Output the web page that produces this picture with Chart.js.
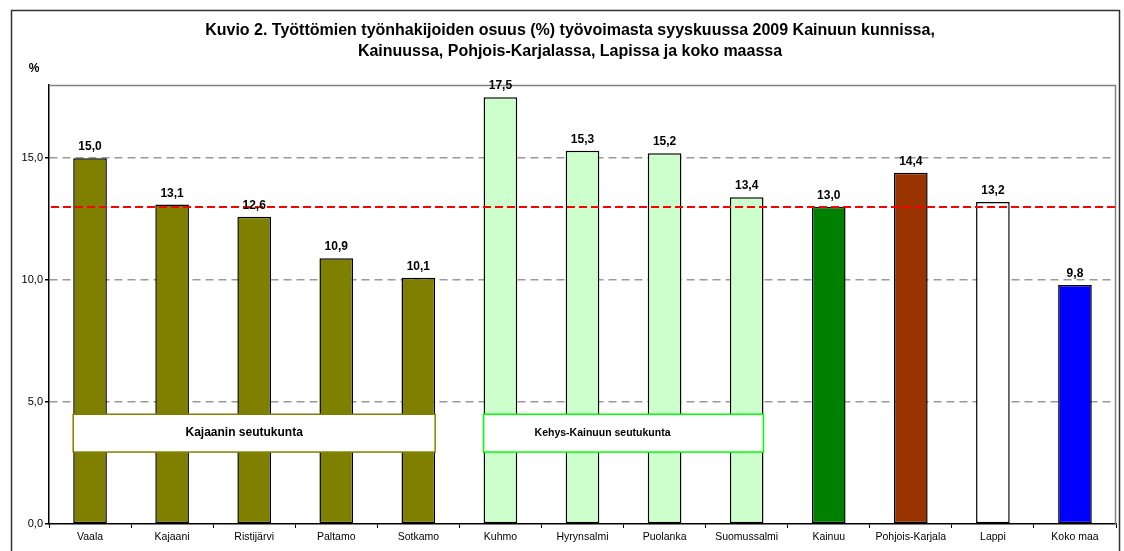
<!DOCTYPE html>
<html>
<head>
<meta charset="utf-8">
<script src="https://cdn.jsdelivr.net/npm/chart.js@4"></script>
<style>
  html, body { margin: 0; padding: 0; background: #fff; }
  #wrap { width: 1124px; height: 551px; }
</style>
</head>
<body>
<div id="wrap"><canvas id="chart" width="1124" height="551"></canvas></div>
<script>
// alueet ja osuudet (%)
var kunnat = ['Vaala', 'Kajaani', 'Ristijärvi', 'Paltamo', 'Sotkamo', 'Kuhmo', 'Hyrynsalmi',
  'Puolanka', 'Suomussalmi', 'Kainuu', 'Pohjois-Karjala', 'Lappi', 'Koko maa'];
var osuudet = [15.0, 13.1, 12.6, 10.9, 10.1, 17.5, 15.3, 15.2, 13.4, 13.0, 14.4, 13.2, 9.8];
var yTicks = [0, 5, 10, 15];
var kainuuViiva = 13.0;  // punainen katkoviiva = Kainuu

var otsikko = [
  'Kuvio 2. Työttömien työnhakijoiden osuus (%) työvoimasta syyskuussa 2009 Kainuun kunnissa,',
  'Kainuussa, Pohjois-Karjalassa, Lapissa ja koko maassa'
];

// värit pylväille
var varit = ['#808000', '#808000', '#808000', '#808000', '#808000',
  '#CCFFCC', '#CCFFCC', '#CCFFCC', '#CCFFCC',
  '#008000', '#993300', '#FFFFFF', '#0000FF'];

// seutukuntalaatikot
var seutukunnat = [
  { alku: 0, loppu: 4, teksti: 'Kajaanin seutukunta', reuna: '#808000', koko: 12, siirto: -10 },
  { alku: 5, loppu: 8, teksti: 'Kehys-Kainuun seutukunta', reuna: '#00FF00', koko: 10.5, siirto: -21 }
];

function fmt(v) { return v.toFixed(1).replace('.', ','); }

var FONT = '"Liberation Sans", Arial, sans-serif';

var kehysPlugin = {
  id: 'kehys',
  beforeDraw: function(chart) {
    var ctx = chart.ctx;
    ctx.save();
    ctx.fillStyle = '#fff';
    ctx.fillRect(0, 0, chart.width, chart.height);
    ctx.strokeStyle = '#333';
    ctx.lineWidth = 1.5;
    ctx.beginPath();
    ctx.moveTo(11.5, chart.height + 5);
    ctx.lineTo(11.5, 10.5);
    ctx.lineTo(1119.5, 10.5);
    ctx.lineTo(1119.5, chart.height + 5);
    ctx.stroke();

    // otsikko
    ctx.fillStyle = '#000';
    ctx.font = 'bold 16px ' + FONT;
    ctx.textAlign = 'center';
    ctx.textBaseline = 'middle';
    ctx.fillText(otsikko[0], 570, 31);
    ctx.fillText(otsikko[1], 570, 52);

    ctx.font = 'bold 12px ' + FONT;
    ctx.fillText('%', 34, 69);
    ctx.restore();
  },
  beforeDatasetsDraw: function(chart) {
    var a = chart.chartArea, ctx = chart.ctx;
    ctx.save();
    ctx.strokeStyle = '#808080';
    ctx.lineWidth = 1.5;
    ctx.beginPath();
    ctx.moveTo(a.left, a.top + 0.5);
    ctx.lineTo(a.right - 0.5, a.top + 0.5);
    ctx.lineTo(a.right - 0.5, a.bottom);
    ctx.stroke();
    ctx.restore();
  },
  afterDatasetsDraw: function(chart) {
    var ctx = chart.ctx, a = chart.chartArea;
    var y = chart.scales.y;
    var meta = chart.getDatasetMeta(0);
    ctx.save();

    // Kainuun taso
    var yy = Math.round(y.getPixelForValue(kainuuViiva));
    ctx.strokeStyle = 'rgb(255,0,0)';
    ctx.lineWidth = 2;
    ctx.setLineDash([8, 4]);
    ctx.beginPath();
    ctx.moveTo(a.left + 2, yy);
    ctx.lineTo(a.right, yy);
    ctx.stroke();
    ctx.setLineDash([]);

    // arvot pylväiden päälle
    ctx.fillStyle = '#000';
    ctx.font = 'bold 12px ' + FONT;
    ctx.textAlign = 'center';
    ctx.textBaseline = 'alphabetic';
    meta.data.forEach(function(bar, i) {
      ctx.fillText(fmt(osuudet[i]), bar.x, bar.y - 8);
    });

    // seutukuntien laatikot
    seutukunnat.forEach(function(s) {
      var b0 = meta.data[s.alku], b1 = meta.data[s.loppu];
      var x0 = b0.x - b0.width / 2, x1 = b1.x + b1.width / 2;
      var t = y.getPixelForValue(4.5), b = y.getPixelForValue(2.95);
      ctx.fillStyle = '#fff';
      ctx.fillRect(x0, t, x1 - x0, b - t);
      ctx.strokeStyle = s.reuna;
      ctx.lineWidth = 1.5;
      ctx.strokeRect(x0, t, x1 - x0, b - t);
      ctx.fillStyle = '#000';
      ctx.font = 'bold ' + s.koko + 'px ' + FONT;
      ctx.textBaseline = 'middle';
      ctx.fillText(s.teksti, (x0 + x1) / 2 + s.siirto, (t + b) / 2);
    });
    ctx.restore();
  }
};

new Chart(document.getElementById('chart'), {
  type: 'bar',
  data: {
    labels: kunnat,
    datasets: [{
      data: osuudet,
      backgroundColor: varit,
      borderColor: '#000',
      borderWidth: 1.5,
      borderSkipped: false,
      barPercentage: 0.41,
      categoryPercentage: 1.0
    }]
  },
  options: {
    responsive: false,
    animation: false,
    layout: { padding: { left: 0, right: 8, top: 85, bottom: 0 } },
    plugins: { legend: { display: false }, tooltip: { enabled: false } },
    scales: {
      x: {
        grid: { offset: true, drawOnChartArea: false, tickLength: 4, color: '#000' },
        border: { color: '#000', width: 1.5 },
        ticks: { color: '#000', font: { family: FONT, size: 10.5 }, padding: 3, maxRotation: 0, autoSkip: false },
        afterFit: function(s) { s.height = 27; }
      },
      y: {
        min: 0,
        max: 18,
        afterBuildTicks: function(s) { s.ticks = yTicks.map(function(v) { return { value: v }; }); },
        grid: {
          color: function(c) { return c.tick && c.tick.value === 0 ? 'rgba(0,0,0,0)' : '#999999'; },
          lineWidth: 1.5,
          tickColor: '#000',
          tickLength: 4,
          tickBorderDash: []
        },
        border: { color: '#000', width: 1.5, dash: [8, 5] },
        ticks: {
          color: '#000',
          font: { family: FONT, size: 11 },
          padding: 2,
          callback: function(v) { return fmt(v); }
        },
        afterFit: function(s) { s.width = 49; }
      }
    }
  },
  plugins: [kehysPlugin]
});
</script>
</body>
</html>
